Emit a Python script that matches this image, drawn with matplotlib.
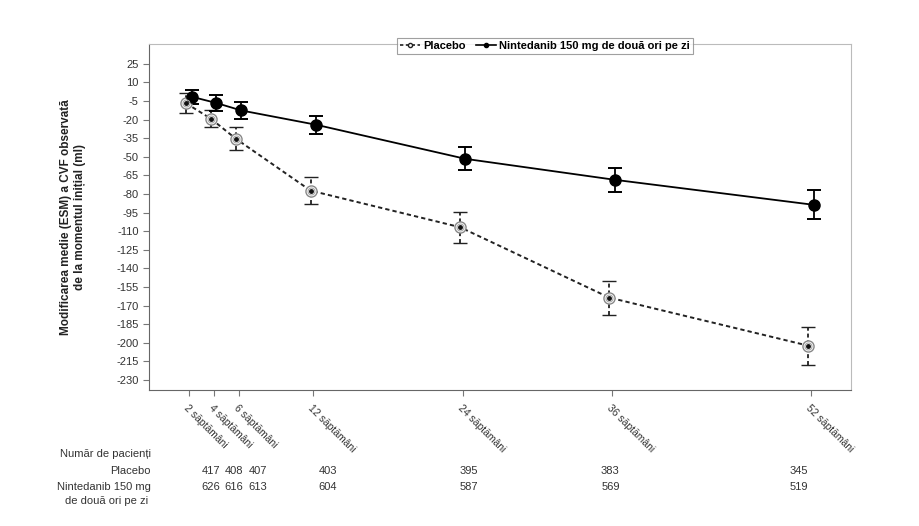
import matplotlib
matplotlib.use("Agg")
import matplotlib.pyplot as plt
from matplotlib import font_manager
from matplotlib.lines import Line2D
from matplotlib.transforms import blended_transform_factory

# values
weeks = [2, 4, 6, 12, 24, 36, 52]
week_labels = ["2 săptămâni", "4 săptămâni", "6 săptămâni", "12 săptămâni",
               "24 săptămâni", "36 săptămâni", "52 săptămâni"]
placebo_mean = [-6.8, -19.3, -35.4, -77.2, -106.7, -163.5, -202.3]
placebo_err = [8.2, 7.0, 9.1, 11.0, 12.4, 13.7, 15.5]
nint_mean = [-1.5, -6.6, -12.6, -24.1, -51.6, -68.5, -88.7]
nint_err = [5.8, 6.7, 7.0, 7.4, 9.3, 9.7, 11.6]
n_placebo = [417, 408, 407, 403, 395, 383, 345]
n_nint = [626, 616, 613, 604, 587, 569, 519]
yticks = list(range(-230, 26, 15))

names = {f.name for f in font_manager.fontManager.ttflist}
base = "Liberation Sans" if "Liberation Sans" in names else "DejaVu Sans"
narrow = "Liberation Sans Narrow" if "Liberation Sans Narrow" in names else base
plt.rcParams['font.family'] = [base, 'DejaVu Sans']

fig = plt.figure(figsize=(9.19, 5.26), dpi=100)
ax = fig.add_axes([149/919, 1-390/526, 702/919, 346/526])

dodge = 0.22
xp = [w - dodge for w in weeks]
xn = [w + dodge for w in weeks]
dash = (0, (2.2, 1.6))

# placebo
eb = ax.errorbar(xp, placebo_mean, yerr=placebo_err, color='#222', lw=1.4,
                 ls=dash, elinewidth=1.3, capsize=4.7, capthick=1.4,
                 marker='o', ms=8, mfc='white', mec='#888', mew=1.0, zorder=3)
eb[2][0].set_linestyle(dash)
ax.plot(xp, placebo_mean, ls='none', marker='o', ms=5, mfc='none',
        mec='#aaa', mew=0.8, zorder=4)
ax.plot(xp, placebo_mean, ls='none', marker='o', ms=2.5, color='#111', zorder=5)

# nintedanib
ax.errorbar(xn, nint_mean, yerr=nint_err, color='black', lw=1.3,
            elinewidth=1.3, capsize=4.7, capthick=1.4,
            marker='o', ms=8, mfc='black', mec='black', zorder=3)

ax.set_xlim(-1.2, 55.2)
ax.set_ylim(-238, 41)
ax.set_yticks(yticks)
ax.set_yticklabels([str(t) for t in yticks])
ax.set_xticks(weeks)
ax.set_xticklabels(week_labels, rotation=-45, ha='left', va='top',
                   rotation_mode='anchor', fontsize=7.5)
ax.tick_params(axis='both', colors='#777', labelcolor='#333', length=4,
               width=0.8)
ax.tick_params(axis='y', labelsize=8)
ax.tick_params(axis='x', pad=5)

for s in ['left', 'bottom']:
    ax.spines[s].set_color('#666')
for s in ['top', 'right']:
    ax.spines[s].set_color('#bbb')

ax.set_ylabel("Modificarea medie (ESM) a CVF observată\nde la momentul inițial (ml)",
              fontsize=8.5, fontweight='bold', color='#222', linespacing=1.2)
ax.yaxis.set_label_coords(-0.09, 0.5)

handles = [
    Line2D([], [], color='#222', ls=(0, (2, 1.5)), lw=1.2, marker='o', ms=3,
           mfc='white', mec='#222'),
    Line2D([], [], color='black', lw=1.2, marker='o', ms=3),
]
leg = ax.legend(handles, ["Placebo", "Nintedanib 150 mg de două ori pe zi"],
                loc='center', bbox_to_anchor=(0.564, 0.995), ncol=2,
                frameon=True, fancybox=False, handlelength=1.8,
                handletextpad=0.3, columnspacing=0.9, borderpad=0.25,
                prop={'family': [narrow, 'DejaVu Sans'], 'weight': 'bold',
                      'size': 8})
leg.get_frame().set_edgecolor('#888')
leg.get_frame().set_linewidth(0.8)

# number-at-risk table
tax = fig.add_axes([149/919, 0.0, 702/919, 0.1])
tax.axis('off')
tax.set_xlim(-3.23, 56.46)
tr = blended_transform_factory(tax.transData, fig.transFigure)
tfont = dict(family=[narrow, 'DejaVu Sans'], size=8, color='#333')

def fy(py):
    return 1 - py/526

fig.text(151/919, fy(454), "Număr de pacienți", ha='right', va='center', **tfont)
fig.text(151/919, fy(471.5), "Placebo", ha='right', va='center', **tfont)
fig.text(151/919, fy(487.5), "Nintedanib 150 mg", ha='right', va='center', **tfont)
fig.text(148/919, fy(500.5), "de două ori pe zi", ha='right', va='center', **tfont)
for w, a, b in zip(weeks, n_placebo, n_nint):
    tax.text(w, fy(471.5), str(a), transform=tr, ha='center', va='center', **tfont)
    tax.text(w, fy(487.5), str(b), transform=tr, ha='center', va='center', **tfont)

fig.savefig("out.png", dpi=100, facecolor='white')
